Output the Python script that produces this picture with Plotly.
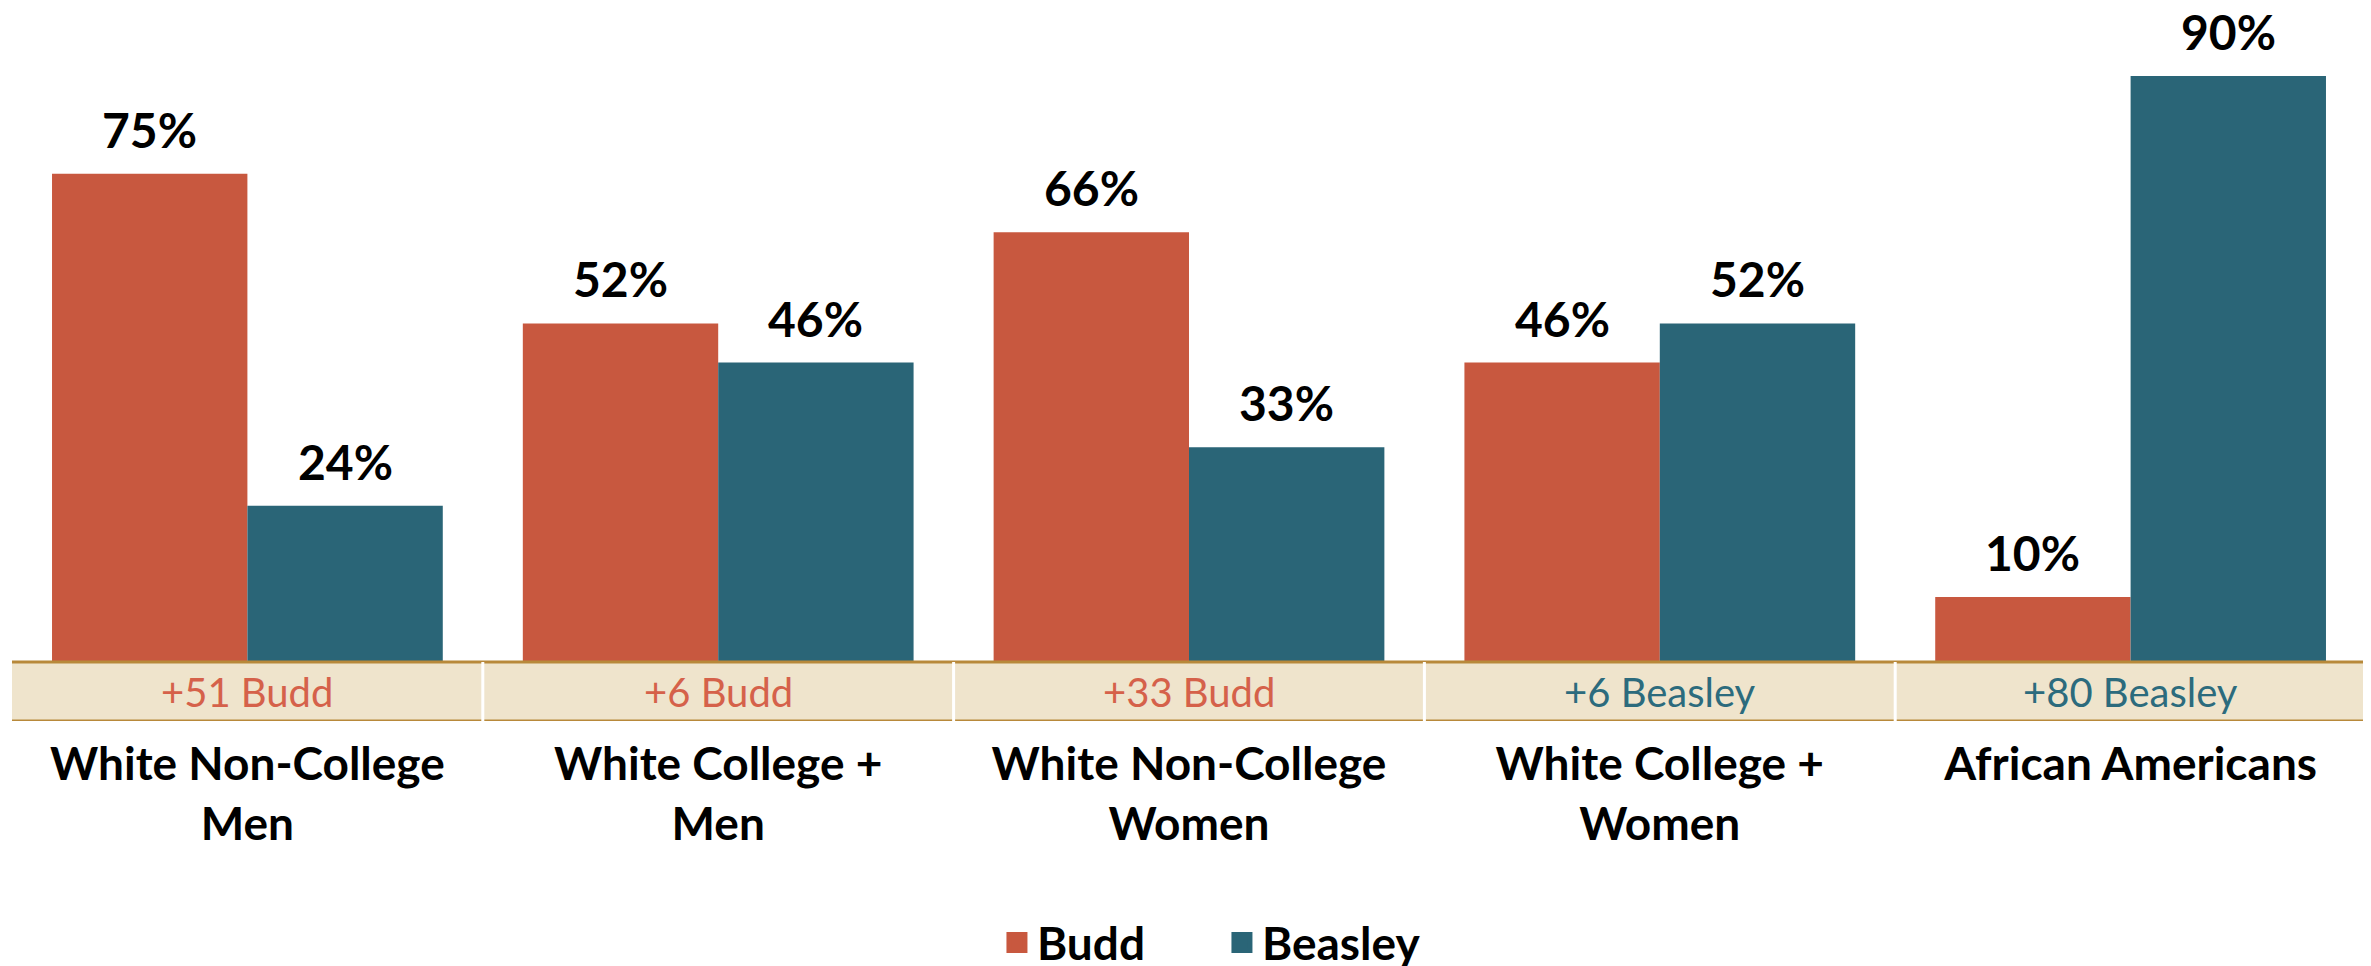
import plotly.graph_objects as go

# ---- data ----
categories = [
    "White Non-College<br>Men",
    "White College +<br>Men",
    "White Non-College<br>Women",
    "White College +<br>Women",
    "African Americans",
]
budd = [75, 52, 66, 46, 10]
beasley = [24, 46, 33, 52, 90]
series_names = ["Budd", "Beasley"]

# ---- styles ----
RED = "#C8583F"
TEAL = "#2A6577"
RED_TXT = "#D5614A"
TEAL_TXT = "#2C6B7D"
BAND_FILL = "#EFE4CC"
GOLD = "#B8893A"
FONT = "Lato"
BARGAP = 0.17
BAND_BOTTOM = -9.06
Y_TOP = 100
FIG_W, FIG_H = 2363, 958   # page body has an 8px margin

fig = go.Figure()
for vals, name, col in [(budd, series_names[0], RED), (beasley, series_names[1], TEAL)]:
    fig.add_bar(x=categories, y=vals, name=name, marker=dict(color=col, line=dict(width=0)),
                showlegend=False, hoverinfo="skip")

# legend entries (larger square swatches)
for name, col in [(series_names[0], RED), (series_names[1], TEAL)]:
    fig.add_scatter(x=[None], y=[None], mode="markers", name=name,
                    marker=dict(symbol="square", size=16, color=col, line=dict(color=col, width=5)))

# value labels above bars
half = (1 - BARGAP) / 4
annotations = []
for i in range(len(categories)):
    for vals, off in [(budd, -half), (beasley, half)]:
        annotations.append(dict(
            x=i + off, y=vals[i], xref="x", yref="y", text=f"{vals[i]}%",
            showarrow=False, yanchor="bottom", yshift=14,
            font=dict(family=FONT, size=48, color="black", weight="bold")))

# margin band labels
for i in range(len(categories)):
    d = budd[i] - beasley[i]
    if d >= 0:
        txt, col = f"+{d} {series_names[0]}", RED_TXT
    else:
        txt, col = f"+{-d} {series_names[1]}", TEAL_TXT
    annotations.append(dict(
        x=i, y=BAND_BOTTOM / 2, xref="x", yref="y", text=txt, showarrow=False,
        font=dict(family=FONT, size=40, color=col)))

shapes = [
    dict(type="rect", xref="x", yref="y", x0=-0.5, x1=len(categories) - 0.5,
         y0=BAND_BOTTOM, y1=0, fillcolor=BAND_FILL, line=dict(width=0), layer="below"),
    dict(type="line", xref="x", yref="y", x0=-0.5, x1=len(categories) - 0.5,
         y0=0, y1=0, line=dict(color=GOLD, width=3), layer="above"),
    dict(type="line", xref="x", yref="y", x0=-0.5, x1=len(categories) - 0.5,
         y0=BAND_BOTTOM, y1=BAND_BOTTOM, line=dict(color=GOLD, width=3), layer="above"),
]
for i in range(len(categories) - 1):
    shapes.append(dict(type="line", xref="x", yref="y", x0=i + 0.5, x1=i + 0.5,
                       y0=BAND_BOTTOM, y1=0, line=dict(color="white", width=3), layer="above"))

fig.update_layout(
    width=FIG_W, height=FIG_H,
    margin=dict(l=4, r=5, t=3, b=245, autoexpand=False),
    paper_bgcolor="white", plot_bgcolor="white",
    barmode="group", bargap=BARGAP, bargroupgap=0,
    xaxis=dict(type="category", range=[-0.5, len(categories) - 0.5], showgrid=False,
               zeroline=False, showline=False, ticks="", ticklabelstandoff=12,
               tickfont=dict(family=FONT, size=46, color="black", weight="bold")),
    yaxis=dict(range=[BAND_BOTTOM, Y_TOP], visible=False, showgrid=False, zeroline=False),
    legend=dict(orientation="h", x=0.514, xanchor="center", yref="container",
                y=1 - 898 / FIG_H, yanchor="top", entrywidth=180,
                font=dict(family=FONT, size=46, color="black", weight="bold"),
                itemsizing="trace", bgcolor="rgba(0,0,0,0)"),
    annotations=annotations,
    shapes=shapes,
    showlegend=True,
)

fig.write_html("out.html")
